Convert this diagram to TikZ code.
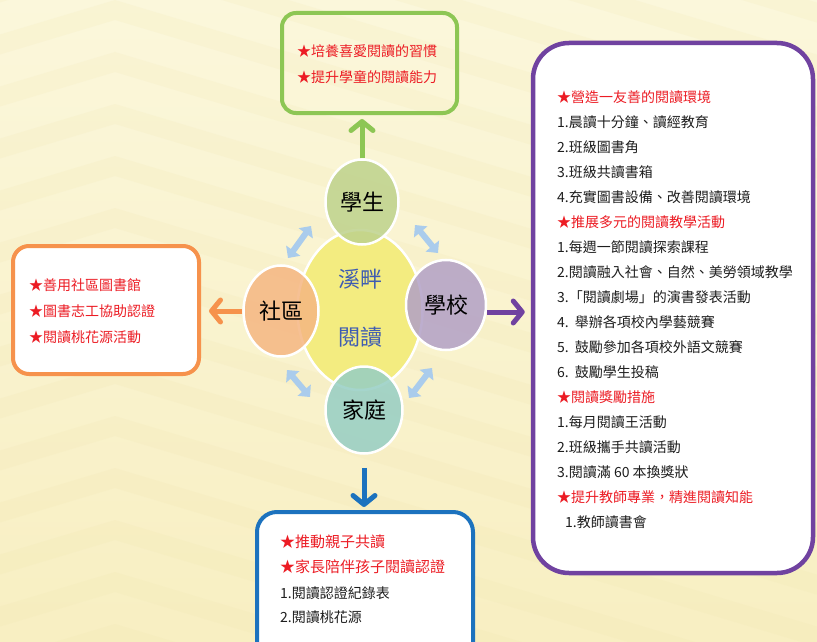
\documentclass[tikz,border=0pt]{standalone}
\usepackage{fontspec}
\setmainfont{Noto Sans CJK TC}
\usetikzlibrary{shapes.geometric,arrows.meta}
\definecolor{bgtop}{RGB}{251,247,219}
\definecolor{bgbot}{RGB}{248,239,194}
\definecolor{bgband}{RGB}{238,226,168}
\definecolor{hdr}{RGB}{236,28,36}
\definecolor{txt}{RGB}{30,30,30}
\definecolor{cgreen}{RGB}{141,198,84}
\definecolor{corange}{RGB}{246,146,76}
\definecolor{cpurple}{RGB}{112,66,160}
\definecolor{cblue}{RGB}{28,114,190}
\definecolor{lblue}{RGB}{170,204,236}
\definecolor{fyellow}{RGB}{243,236,128}
\definecolor{fstu}{RGB}{190,210,140}
\definecolor{fcom}{RGB}{245,182,130}
\definecolor{fsch}{RGB}{178,160,198}
\definecolor{ffam}{RGB}{150,206,196}
\definecolor{ctitle}{RGB}{62,92,178}
\begin{document}
\begin{tikzpicture}[x=1pt,y=-1pt,
  box/.style={rounded corners=#1, line width=4pt, inner sep=0pt},
  bubble/.style={ellipse, draw=white, line width=2.5pt, inner sep=0pt, font=\fontsize{22}{24}\selectfont, text=black, fill opacity=0.85, text opacity=1},
  outarrow/.style={line width=5pt, -{Straight Barb[length=9pt,width=22pt,round]}},
  twoway/.style={line width=6pt, draw=lblue, {Triangle[length=9pt,width=17pt]}-{Triangle[length=9pt,width=17pt]}},
  item/.style={anchor=west, inner sep=0pt, font=\fontsize{14}{16}\selectfont},
  bigitem/.style={anchor=west, inner sep=0pt, font=\fontsize{15}{17}\selectfont}
]
\useasboundingbox (0,0) rectangle (817,642);
\clip (0,0) rectangle (817,642);
\shade[top color=bgtop, bottom color=bgbot] (0,0) rectangle (817,642);
% faint chevron bands of the backdrop
\foreach \y in {-260,-208,...,700}{
  \fill[bgband, opacity=0.14] (-20,{\y+40.5}) -- (115,\y) -- (830,{\y+214.5}) -- (830,{\y+234.5}) -- (115,{\y+20}) -- (-20,{\y+60.5}) -- cycle;
}

% boxes
\node[box=14pt, draw=cgreen, minimum width=175pt, minimum height=100pt] (top) at (369.5,63) {};
\node[box=16pt, draw=corange, fill=white, minimum width=186pt, minimum height=128pt] (left) at (106,310) {};
\node[box=20pt, draw=cblue, fill=white, minimum width=216pt, minimum height=168pt] (bottom) at (365,596) {};
\node[box=36pt, draw=cpurple, fill=white, line width=4.5pt, minimum width=280pt, minimum height=530pt] (right) at (673,308) {};

% central bubbles
\node[ellipse, draw=white, line width=2.5pt, fill=fyellow, minimum width=125pt, minimum height=160pt] (core) at (360,310) {};
\node[text=ctitle, font=\fontsize{22}{24}\selectfont] (t1) at (360,279) {溪畔};
\node[text=ctitle, font=\fontsize{22}{24}\selectfont] (t2) at (360,337) {閱讀};
\node[bubble, fill=fstu, minimum width=73pt, minimum height=85pt] (stu) at (362,202) {學生};
\node[bubble, fill=fcom, minimum width=75pt, minimum height=91pt] (com) at (281,311) {社區};
\node[bubble, fill=fsch, minimum width=80pt, minimum height=90pt] (sch) at (446,305) {學校};
\node[bubble, fill=ffam, minimum width=77pt, minimum height=87pt] (fam) at (364,410) {家庭};

% two-way arrows
\coordinate (a1) at (311,226); \coordinate (a2) at (288,258);
\coordinate (b1) at (415,225); \coordinate (b2) at (438,253);
\coordinate (c1) at (287,370); \coordinate (c2) at (310,397);
\coordinate (d1) at (432,368); \coordinate (d2) at (409,398);
\draw[twoway] (a1) -- (a2);
\draw[twoway] (b1) -- (b2);
\draw[twoway] (c1) -- (c2);
\draw[twoway] (d1) -- (d2);

% outward arrows
\draw[outarrow, draw=cgreen, shorten >=4pt] (stu.north) -- (stu.north |- top.south);
\draw[outarrow, draw=corange, shorten >=8pt] (com.west) -- (com.west -| left.east);
\coordinate (se) at ([yshift=-7pt]sch.east);
\draw[outarrow, draw=cpurple, shorten >=6pt] (se) -- (se -| right.west);
\draw[outarrow, draw=cblue, shorten <=13pt, shorten >=3pt] (fam.south) -- (fam.south |- bottom.north);

% top box text
\node[item, text=hdr] (tp1) at (297,51) {★培養喜愛閱讀的習慣};
\node[item, text=hdr] (tp2) at (297,77) {★提升學童的閱讀能力};

% left box text
\node[item, text=hdr] (lf1) at (29,285) {★善用社區圖書館};
\node[item, text=hdr] (lf2) at (29,311) {★圖書志工協助認證};
\node[item, text=hdr] (lf3) at (29,337) {★閱讀桃花源活動};

% bottom box text
\node[bigitem, text=hdr] (bt1) at (280,542) {★推動親子共讀};
\node[bigitem, text=hdr] (bt2) at (280,567) {★家長陪伴孩子閱讀認證};
\node[item, text=txt] (bt3) at (280,593) {1.閱讀認證紀錄表};
\node[item, text=txt] (bt4) at (280,617) {2.閱讀桃花源};

% right box text
\foreach \c/\t [count=\i] in {
  hdr/{★營造一友善的閱讀環境},
  txt/{1.晨讀十分鐘、讀經教育},
  txt/{2.班級圖書角},
  txt/{3.班級共讀書箱},
  txt/{4.充實圖書設備、改善閱讀環境},
  hdr/{★推展多元的閱讀教學活動},
  txt/{1.每週一節閱讀探索課程},
  txt/{2.閱讀融入社會、自然、美勞領域教學},
  txt/{3.「閱讀劇場」的演書發表活動},
  txt/{4.\hspace{6pt}舉辦各項校內學藝競賽},
  txt/{5.\hspace{6pt}鼓勵參加各項校外語文競賽},
  txt/{6.\hspace{6pt}鼓勵學生投稿},
  hdr/{★閱讀獎勵措施},
  txt/{1.每月閱讀王活動},
  txt/{2.班級攜手共讀活動},
  txt/{3.閱讀滿 60 本換獎狀},
  hdr/{★提升教師專業，精進閱讀知能},
  txt/{\hspace{8pt}1.教師讀書會}
}{
  \node[item, text=\c] (r\i) at (557,{97+25*(\i-1)}) {\t};
}
\end{tikzpicture}
\end{document}
